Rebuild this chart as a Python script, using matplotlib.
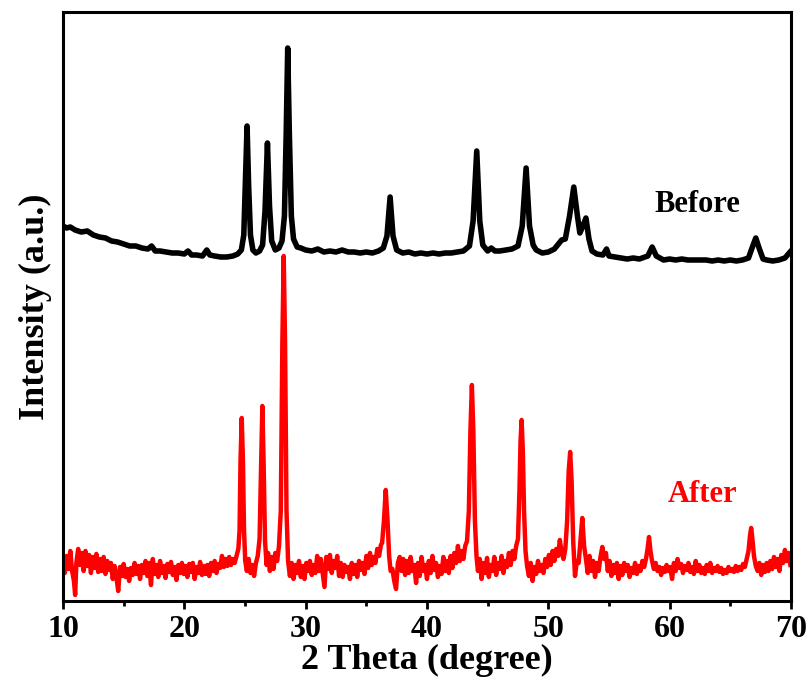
import matplotlib
matplotlib.use("Agg")
import matplotlib.pyplot as plt
from matplotlib.ticker import MultipleLocator

# XRD pattern before use (black), intensity in arbitrary units
before_theta = [10.0, 10.3, 10.6, 11.0, 11.5, 12.0, 12.5, 13.0, 13.5, 14.0, 14.5, 15.0,
                15.5, 16.0, 16.5, 17.0, 17.3, 17.6, 18.0, 18.5, 19.0, 19.5, 20.0, 20.3,
                20.6, 21.0, 21.5, 21.85, 22.1, 22.5, 23.0, 23.5, 24.0, 24.4, 24.7, 24.9,
                25.03, 25.17, 25.3, 25.45, 25.65, 25.9, 26.2, 26.45, 26.65, 26.85, 27.02, 27.2,
                27.5, 27.8, 28.05, 28.25, 28.4, 28.52, 28.65, 28.82, 29.0, 29.3, 29.6, 30.0,
                30.5, 31.0, 31.5, 32.0, 32.5, 33.0, 33.5, 34.0, 34.5, 35.0, 35.5, 36.0,
                36.4, 36.7, 36.96, 37.2, 37.5, 38.0, 38.5, 39.0, 39.5, 40.0, 40.5, 41.0,
                41.5, 42.0, 42.5, 43.0, 43.5, 43.8, 44.1, 44.35, 44.6, 45.0, 45.3, 45.6,
                46.0, 46.5, 47.0, 47.5, 47.85, 48.17, 48.45, 48.75, 49.0, 49.5, 50.0, 50.5,
                50.9, 51.1, 51.4, 51.75, 52.1, 52.4, 52.6, 52.85, 53.1, 53.35, 53.6, 54.0,
                54.5, 54.8, 55.0, 55.5, 56.0, 56.5, 57.0, 57.5, 58.2, 58.56, 58.9, 59.5,
                60.0, 60.5, 61.0, 61.5, 62.0, 62.5, 63.0, 63.5, 64.0, 64.5, 65.0, 65.5,
                66.0, 66.5, 66.85, 67.1, 67.4, 67.7, 68.0, 68.5, 69.0, 69.5, 69.85, 70.0]
before_counts = [375, 373, 374, 371, 369, 370, 366, 364, 363, 360, 359, 357,
                 355, 355, 353, 352, 355, 350, 350, 349, 348, 348, 347, 350,
                 346, 346, 345, 351, 346, 345, 344, 344, 345, 347, 351, 366,
                 420, 475, 415, 366, 351, 348, 350, 356, 390, 458, 395, 360,
                 351, 353, 360, 385, 470, 553, 470, 385, 362, 354, 353, 351,
                 350, 352, 349, 350, 349, 351, 349, 349, 348, 349, 348, 350,
                 353, 365, 404, 365, 351, 348, 349, 347, 348, 347, 348, 347,
                 348, 348, 349, 350, 355, 380, 450, 380, 356, 350, 353, 350,
                 350, 351, 352, 355, 375, 433, 375, 356, 351, 348, 349, 352,
                 358, 361, 362, 385, 414, 385, 368, 375, 383, 362, 350, 347,
                 346, 352, 345, 344, 343, 342, 343, 342, 345, 354, 345, 341,
                 342, 341, 342, 341, 341, 341, 341, 340, 341, 340, 341, 340,
                 341, 343, 355, 363, 352, 342, 341, 340, 341, 343, 348, 350]

# XRD pattern after use (red)
after_theta = [10.0, 10.15, 10.3, 10.45, 10.6, 10.75, 10.9, 11.0, 11.1, 11.25, 11.4, 11.55,
               11.7, 11.85, 12.0, 12.15, 12.3, 12.45, 12.6, 12.75, 12.9, 13.05, 13.2, 13.35,
               13.5, 13.65, 13.8, 13.95, 14.1, 14.25, 14.4, 14.55, 14.7, 14.85, 15.0, 15.15,
               15.3, 15.45, 15.6, 15.75, 15.9, 16.05, 16.2, 16.35, 16.5, 16.65, 16.8, 16.95,
               17.1, 17.25, 17.4, 17.55, 17.7, 17.85, 18.0, 18.15, 18.3, 18.45, 18.6, 18.75,
               18.9, 19.05, 19.2, 19.35, 19.5, 19.65, 19.8, 19.95, 20.1, 20.25, 20.4, 20.55,
               20.7, 20.85, 21.0, 21.15, 21.3, 21.45, 21.6, 21.75, 21.9, 22.05, 22.2, 22.35,
               22.5, 22.65, 22.8, 22.95, 23.1, 23.25, 23.4, 23.55, 23.7, 23.85, 24.0, 24.15,
               24.3, 24.45, 24.55, 24.63, 24.73, 24.83, 24.92, 25.02, 25.15, 25.3, 25.45, 25.6,
               25.75, 25.9, 26.05, 26.2, 26.33, 26.43, 26.53, 26.65, 26.78, 26.9, 27.05, 27.2,
               27.35, 27.5, 27.65, 27.8, 27.95, 28.08, 28.19, 28.3, 28.42, 28.55, 28.7, 28.85,
               29.0, 29.15, 29.3, 29.45, 29.6, 29.75, 29.9, 30.05, 30.2, 30.35, 30.5, 30.65,
               30.8, 30.95, 31.1, 31.25, 31.4, 31.55, 31.7, 31.85, 32.0, 32.15, 32.3, 32.45,
               32.6, 32.75, 32.9, 33.05, 33.2, 33.35, 33.5, 33.65, 33.8, 33.95, 34.1, 34.25,
               34.4, 34.55, 34.7, 34.85, 35.0, 35.15, 35.3, 35.45, 35.6, 35.75, 35.9, 36.05,
               36.2, 36.3, 36.45, 36.6, 36.75, 36.88, 37.0, 37.15, 37.3, 37.45, 37.6, 37.75,
               37.9, 38.05, 38.2, 38.35, 38.5, 38.65, 38.8, 38.95, 39.1, 39.25, 39.4, 39.55,
               39.7, 39.85, 40.0, 40.15, 40.3, 40.45, 40.6, 40.75, 40.9, 41.05, 41.2, 41.35,
               41.5, 41.65, 41.8, 41.95, 42.1, 42.25, 42.4, 42.55, 42.7, 42.85, 43.0, 43.15,
               43.3, 43.45, 43.58, 43.7, 43.82, 43.95, 44.08, 44.2, 44.35, 44.5, 44.65, 44.8,
               44.95, 45.1, 45.25, 45.4, 45.55, 45.7, 45.85, 46.0, 46.15, 46.3, 46.45, 46.6,
               46.75, 46.9, 47.05, 47.2, 47.35, 47.5, 47.62, 47.71, 47.8, 47.9, 48.0, 48.12,
               48.25, 48.4, 48.55, 48.7, 48.85, 49.0, 49.15, 49.3, 49.45, 49.6, 49.75, 49.9,
               50.05, 50.2, 50.35, 50.5, 50.65, 50.8, 50.95, 51.1, 51.25, 51.4, 51.55, 51.68,
               51.8, 51.92, 52.05, 52.2, 52.35, 52.5, 52.65, 52.8, 52.95, 53.1, 53.25, 53.4,
               53.55, 53.7, 53.85, 54.0, 54.15, 54.3, 54.45, 54.6, 54.75, 54.9, 55.05, 55.2,
               55.35, 55.5, 55.65, 55.8, 55.95, 56.1, 56.25, 56.4, 56.55, 56.7, 56.85, 57.0,
               57.15, 57.3, 57.45, 57.6, 57.75, 57.9, 58.05, 58.18, 58.3, 58.42, 58.55, 58.7,
               58.85, 59.0, 59.15, 59.3, 59.45, 59.6, 59.75, 59.9, 60.05, 60.2, 60.35, 60.5,
               60.65, 60.8, 60.95, 61.1, 61.25, 61.4, 61.55, 61.7, 61.85, 62.0, 62.15, 62.3,
               62.45, 62.6, 62.75, 62.9, 63.05, 63.2, 63.35, 63.5, 63.65, 63.8, 63.95, 64.1,
               64.25, 64.4, 64.55, 64.7, 64.85, 65.0, 65.15, 65.3, 65.45, 65.6, 65.75, 65.9,
               66.05, 66.2, 66.35, 66.5, 66.62, 66.72, 66.82, 66.95, 67.1, 67.25, 67.4, 67.55,
               67.7, 67.85, 68.0, 68.15, 68.3, 68.45, 68.6, 68.75, 68.9, 69.05, 69.2, 69.35,
               69.5, 69.65, 69.8, 69.95]
after_counts = [40, 28, 45, 32, 50, 30, 20, 6, 38, 52, 36, 48,
                30, 50, 35, 46, 28, 44, 33, 47, 29, 42, 30, 44,
                27, 40, 31, 38, 22, 35, 24, 10, 34, 25, 37, 24,
                32, 20, 33, 26, 38, 27, 35, 22, 36, 28, 40, 25,
                38, 16, 42, 27, 36, 24, 40, 28, 35, 23, 37, 29,
                39, 26, 34, 21, 36, 28, 38, 27, 35, 24, 37, 29,
                38, 22, 34, 28, 39, 26, 35, 27, 36, 25, 38, 30,
                40, 28, 37, 33, 45, 34, 42, 35, 44, 36, 42, 38,
                45, 52, 70, 140, 183, 140, 70, 40, 30, 42, 28, 36,
                25, 38, 45, 62, 140, 195, 140, 60, 36, 48, 30, 44,
                32, 48, 40, 55, 90, 260, 345, 260, 90, 40, 25, 38,
                22, 36, 28, 40, 24, 35, 22, 38, 30, 40, 26, 36,
                28, 45, 30, 42, 28, 14, 44, 32, 46, 28, 40, 33,
                45, 25, 38, 24, 36, 29, 34, 22, 38, 27, 36, 24,
                40, 31, 38, 27, 45, 33, 48, 36, 44, 38, 52, 45,
                56, 58, 80, 111, 80, 45, 30, 32, 20, 12, 38, 44,
                30, 42, 26, 40, 28, 44, 30, 36, 18, 38, 25, 44,
                30, 36, 22, 40, 28, 45, 31, 38, 24, 35, 27, 44,
                30, 40, 28, 45, 33, 48, 38, 55, 40, 50, 42, 55,
                60, 90, 170, 216, 170, 80, 45, 30, 42, 22, 38, 28,
                43, 24, 36, 30, 44, 26, 38, 32, 45, 28, 40, 34,
                48, 36, 50, 42, 55, 62, 110, 160, 181, 150, 90, 50,
                35, 25, 38, 20, 34, 27, 40, 30, 36, 28, 42, 34,
                46, 36, 50, 40, 52, 45, 61, 48, 42, 52, 80, 130,
                149, 120, 60, 25, 40, 38, 60, 83, 55, 42, 28, 45,
                30, 40, 24, 38, 30, 44, 54, 42, 48, 30, 40, 25,
                36, 28, 38, 22, 35, 26, 38, 30, 36, 24, 33, 28,
                38, 27, 35, 30, 40, 34, 42, 52, 64, 50, 40, 32,
                38, 30, 34, 26, 33, 29, 36, 30, 34, 22, 38, 30,
                42, 33, 37, 28, 35, 31, 38, 29, 34, 27, 40, 30,
                36, 28, 33, 27, 36, 30, 38, 28, 33, 30, 35, 29,
                33, 27, 31, 28, 34, 30, 32, 29, 35, 30, 34, 31,
                37, 34, 42, 50, 65, 73, 62, 45, 35, 30, 38, 26,
                36, 29, 38, 30, 40, 32, 44, 34, 42, 30, 46, 38,
                51, 40, 48, 36]

labels = ["Before", "After"]
colors = ["black", "red"]

plt.rcParams['font.family'] = ['Liberation Serif', 'DejaVu Serif']
plt.rcParams['font.weight'] = 'bold'

fig = plt.figure(figsize=(8.11, 6.95), dpi=100)
ax = fig.add_axes([0.0777, 0.1353, 0.8976, 0.8474])

ax.plot(before_theta, before_counts, color=colors[0], lw=4.0, solid_joinstyle='round')
ax.plot(after_theta, after_counts, color=colors[1], lw=3.2, solid_joinstyle='round')

ax.text(62.3, 397, labels[0], color=colors[0], fontsize=22, fontweight='bold',
        ha='center', va='center')
ax.text(62.7, 106, labels[1], color=colors[1], fontsize=22, fontweight='bold',
        ha='center', va='center')

ax.set_xlim(10, 70)
ax.set_ylim(0, 589)
ax.xaxis.set_major_locator(MultipleLocator(10))
ax.xaxis.set_minor_locator(MultipleLocator(5))
ax.set_yticks([])
ax.tick_params(axis='x', which='major', direction='out', length=6, width=2,
               labelsize=23, pad=4)
ax.tick_params(axis='x', which='minor', direction='out', length=3.5, width=2)
for lab in ax.get_xticklabels():
    lab.set_fontweight('bold')
for s in ax.spines.values():
    s.set_linewidth(2.2)

ax.set_xlabel("2 Theta (degree)", fontsize=26, fontweight='bold', labelpad=0)
ax.set_ylabel("Intensity (a.u.)", fontsize=26, fontweight='bold', labelpad=8)

fig.savefig("out.png", dpi=100)
